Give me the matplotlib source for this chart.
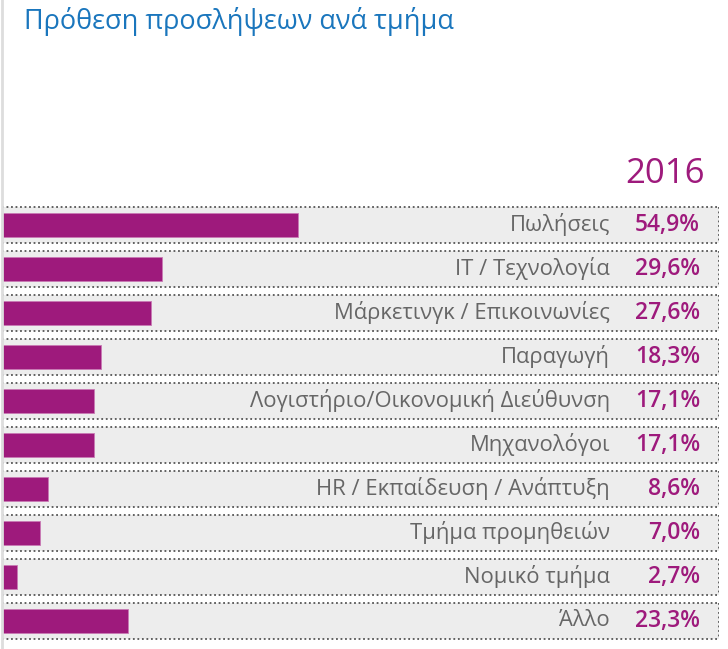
import matplotlib.pyplot as plt

categories = ["Πωλήσεις", "IT / Τεχνολογία", "Μάρκετινγκ / Επικοινωνίες",
              "Παραγωγή", "Λογιστήριο/Οικονομική Διεύθυνση", "Μηχανολόγοι",
              "HR / Εκπαίδευση / Ανάπτυξη", "Τμήμα προμηθειών",
              "Νομικό τμήμα", "Άλλο"]
values = [54.9, 29.6, 27.6, 18.3, 17.1, 17.1, 8.6, 7.0, 2.7, 23.3]
year = "2016"
title = "Πρόθεση προσλήψεων ανά τμήμα"

PURPLE = "#9e1a7c"
BLUE = "#1a76bd"
GREY_TXT = "#666666"
BAND = "#ededed"

W, H = 728, 649
px_per_pct = 5.39


def main():
    plt.rcParams["font.family"] = ["Open Sans", "DejaVu Sans"]
    fig = plt.figure(figsize=(W / 100, H / 100), dpi=100)

    # axes in pixel layout: x from 2px to 719px, rows 44px apart from y=203
    left, right = 2, 719
    top, bottom = 203, 643
    ax = fig.add_axes([left / W, (H - bottom) / H, (right - left) / W,
                       (bottom - top) / H])
    xmax = (right - left) / px_per_pct
    ax.set_xlim(0, xmax)
    ax.set_ylim(len(values) - 0.5, -0.5)
    ax.axis("off")

    band_h = 36 / 44
    bar_h = 24 / 44
    ys = list(range(len(values)))

    ax.barh(ys, [xmax] * len(values), height=band_h, color=BAND, zorder=1)
    for y in ys:
        for yy in (y - band_h / 2, y + band_h / 2):
            ax.plot([0, xmax], [yy, yy], color="#555555", lw=1.3,
                    ls=(0, (1, 1.5)), zorder=2, solid_capstyle="butt")
        ax.plot([xmax, xmax], [y - band_h / 2, y + band_h / 2],
                color="#555555", lw=1.3, ls=(0, (1, 1.5)), zorder=2)

    ax.barh(ys, values, height=bar_h, color=PURPLE, edgecolor="#c97ab5",
            linewidth=0.6, zorder=3)

    label_x = (610 - left) / px_per_pct
    pct_x = (700 - left) / px_per_pct
    for y, cat, v in zip(ys, categories, values):
        ax.text(label_x, y, cat, ha="right", va="center", color=GREY_TXT,
                fontsize=15.8, zorder=4)
        ax.text(pct_x, y, f"{v:.1f}%".replace(".", ","), ha="right",
                va="center", color=PURPLE, fontsize=16.5, fontweight=600,
                zorder=4)

    # light vertical rule on the left edge
    fig.add_artist(plt.Line2D([2 / W, 2 / W], [0, 1], color="#dddddd",
                              lw=2))

    fig.text(24 / W, 1 - 21 / H, title, ha="left", va="center", color=BLUE,
             fontsize=19.5)
    fig.text(705 / W, 1 - 174 / H, year, ha="right", va="center",
             color=PURPLE, fontsize=25)

    fig.savefig("out.png", dpi=100)


if __name__ == "__main__":
    main()
